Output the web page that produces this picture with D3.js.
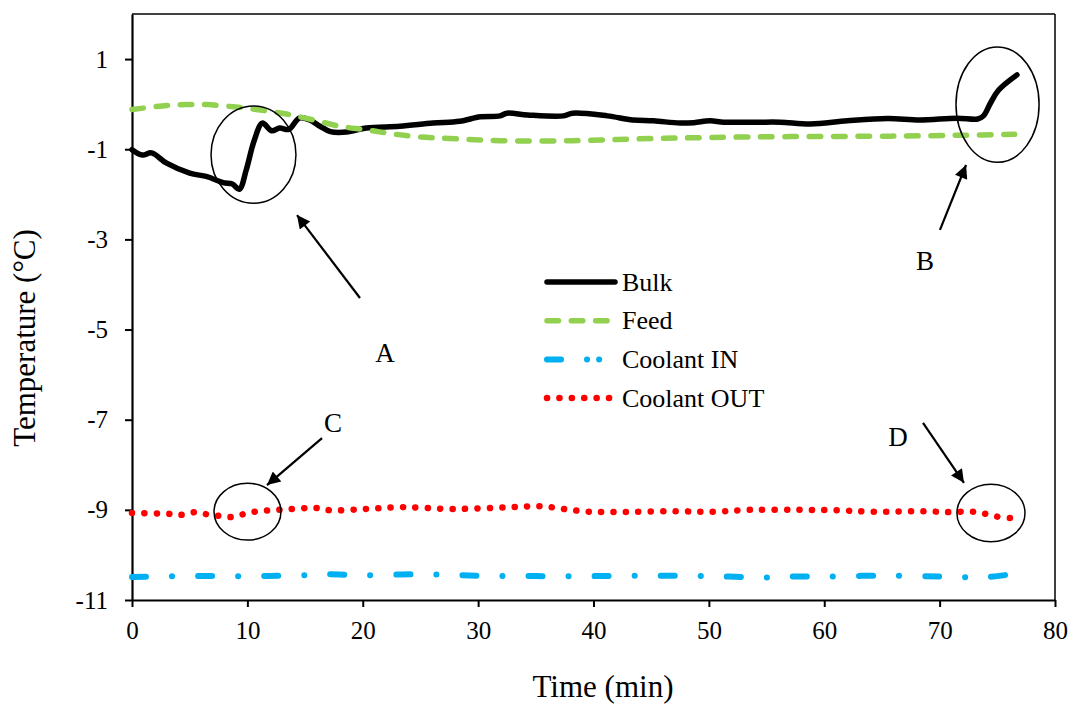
<!DOCTYPE html>
<html>
<head>
<meta charset="utf-8">
<script src="https://cdn.jsdelivr.net/npm/d3@7"></script>
<style>
  body { margin: 0; background: #fff; }
  svg text { font-family: "Liberation Serif", "Times New Roman", serif; fill: #000; }
</style>
</head>
<body>
<svg id="chart" width="1073" height="706"></svg>
<script>
// temperature log, values
const bulkTime = [0, 0.9, 1.7, 3, 5, 6.5, 7.9, 8.7, 9.3, 9.9, 10.6, 11.3, 12.1, 12.8, 13.6, 14.5, 15.4, 16.3, 17.2, 18.6, 20.3, 23.2, 26.1, 28.4, 30.2, 31.9, 32.5, 34.3, 37.4, 38.2, 41.2, 43.4, 45.2, 47.5, 48.7, 50.1, 51.3, 54.2, 56.2, 58.8, 62, 65.5, 68.3, 71.5, 73.3, 73.8, 74.4, 75.1, 76.7]
const bulkTemp = [-1.01, -1.13, -1.08, -1.31, -1.53, -1.61, -1.74, -1.77, -1.89, -1.46, -0.8, -0.42, -0.59, -0.53, -0.56, -0.31, -0.35, -0.49, -0.61, -0.62, -0.53, -0.49, -0.42, -0.38, -0.28, -0.26, -0.2, -0.24, -0.26, -0.2, -0.26, -0.35, -0.37, -0.42, -0.41, -0.37, -0.4, -0.4, -0.4, -0.44, -0.37, -0.32, -0.35, -0.31, -0.33, -0.26, 0.02, 0.31, 0.65]

const feedTime = [0, 3, 4.7, 6.5, 8.8, 11.1, 13.4, 15.7, 18, 20.3, 22.6, 25, 27.5, 31.9, 38.2, 44, 49.8, 57, 65.7, 71.8, 76.5]
const feedTemp = [-0.12, -0.03, -0.01, -0.01, -0.06, -0.13, -0.22, -0.35, -0.49, -0.57, -0.66, -0.73, -0.76, -0.81, -0.81, -0.77, -0.74, -0.72, -0.71, -0.69, -0.67]

const coolInTime = [0, 5, 10, 15, 17, 20, 25, 30, 35, 40, 45, 50, 55, 57, 60, 65, 70, 74, 76.5]
const coolInTemp = [-10.49, -10.47, -10.47, -10.45, -10.43, -10.45, -10.43, -10.46, -10.47, -10.47, -10.46, -10.47, -10.5, -10.48, -10.48, -10.46, -10.48, -10.49, -10.42]

const coolOutTime = [0, 3.3, 4.4, 5.5, 6.5, 7.5, 8.6, 9.6, 10.7, 12.8, 16, 17.2, 20.3, 23.5, 27.8, 33, 35.4, 37.4, 39.5, 41.7, 46.9, 50.4, 53.6, 57.7, 61.1, 64.3, 68.6, 70.8, 72.9, 74, 75, 76.1]
const coolOutTemp = [-9.07, -9.09, -9.11, -9.05, -9.1, -9.13, -9.16, -9.1, -9.04, -9, -8.96, -9.01, -8.98, -8.94, -8.98, -8.94, -8.92, -8.98, -9.04, -9.05, -9.03, -9.04, -9, -9, -9.01, -9.04, -9.03, -9.05, -9.04, -9.09, -9.15, -9.18]

const xTicks = [0, 10, 20, 30, 40, 50, 60, 70, 80]
const yTicks = [1, -1, -3, -5, -7, -9, -11]

// circled regions and arrows (time, temperature)
const circleNames = ['A', 'B', 'C', 'D']
const circleCentres = [[10.53, -1.12], [75.02, -0.01], [10.01, -9.04], [74.45, -9.07]]
const circleRadii = [[3.68, 1.08], [3.6, 1.28], [2.9, 0.63], [2.95, 0.64]]
const arrowTails = [[19.76, -4.3], [70.03, -2.79], [16.47, -7.41], [68.56, -7.07]]
const arrowHeads = [[14.3, -2.46], [72.29, -1.35], [11.7, -8.45], [72.11, -8.4]]
const letterSpots = [[21.93, -5.5], [68.73, -3.46], [17.42, -7.07], [66.39, -7.38]]

const series = [
  { name: 'Bulk', t: bulkTime, v: bulkTemp, color: '#000000', width: 5.5, dash: null },
  { name: 'Feed', t: feedTime, v: feedTemp, color: '#92D050', width: 5.5, dash: '11.5 12.8' },
  { name: 'Coolant IN', t: coolInTime, v: coolInTemp, color: '#00B0F0', width: 6, dash: '14 26 0.1 26' },
  { name: 'Coolant OUT', t: coolOutTime, v: coolOutTemp, color: '#FF0000', width: 6.5, dash: '0.1 12.3' }
]

const svg = d3.select('#chart')
const margin = { left: 132, top: 14, right: 18, bottom: 106 }
const width = 1073 - margin.left - margin.right
const height = 706 - margin.top - margin.bottom

const x = d3.scaleLinear().domain([0, 80]).range([0, width])
const y = d3.scaleLinear().domain([-11, 2]).range([height, 0])

const g = svg.append('g').attr('transform', `translate(${margin.left},${margin.top})`)

// frame
g.append('line').attr('x1', 0).attr('x2', width).attr('y1', 0).attr('y2', 0)
  .attr('stroke', '#000').attr('stroke-width', 1.5)
g.append('line').attr('x1', width).attr('x2', width).attr('y1', 0).attr('y2', height)
  .attr('stroke', '#000').attr('stroke-width', 1.5)

// axes, plain hyphen for negatives like the original
const xAxis = g.append('g').attr('transform', `translate(0,${height})`)
  .call(d3.axisBottom(x).tickValues(xTicks).tickFormat(d => String(d))
    .tickSize(7).tickPadding(14).tickSizeOuter(0))
const yAxis = g.append('g')
  .call(d3.axisLeft(y).tickValues(yTicks).tickFormat(d => String(d))
    .tickSize(7).tickPadding(17).tickSizeOuter(0))

;[xAxis, yAxis].forEach(a => {
  a.attr('font-family', 'Liberation Serif').attr('font-size', 25)
  a.select('.domain').attr('stroke', '#000').attr('stroke-width', 2.2)
  a.selectAll('.tick line').attr('stroke', '#000').attr('stroke-width', 2)
  a.selectAll('.tick text').attr('fill', '#000')
})

// lines
const line = d3.line().curve(d3.curveCatmullRom.alpha(0.5))
series.forEach(s => {
  const pts = s.t.map((t, i) => [x(t), y(s.v[i])])
  g.append('path')
    .attr('d', line(pts))
    .attr('fill', 'none')
    .attr('stroke', s.color)
    .attr('stroke-width', s.width)
    .attr('stroke-linecap', 'round')
    .attr('stroke-linejoin', 'round')
    .attr('stroke-dasharray', s.dash)
})

// annotations
svg.append('defs').append('marker')
  .attr('id', 'head')
  .attr('viewBox', '0 0 10 10')
  .attr('refX', 10).attr('refY', 5)
  .attr('markerWidth', 7).attr('markerHeight', 6)
  .attr('markerUnits', 'strokeWidth')
  .attr('orient', 'auto')
  .append('path').attr('d', 'M0,0 L10,5 L0,10 Z').attr('fill', '#000')

circleNames.forEach((n, i) => {
  const c = circleCentres[i]
  const r = circleRadii[i]
  g.append('ellipse')
    .attr('cx', x(c[0])).attr('cy', y(c[1]))
    .attr('rx', x(r[0]) - x(0)).attr('ry', y(0) - y(r[1]))
    .attr('fill', 'none').attr('stroke', '#000').attr('stroke-width', 1.5)
  g.append('line')
    .attr('x1', x(arrowTails[i][0])).attr('y1', y(arrowTails[i][1]))
    .attr('x2', x(arrowHeads[i][0])).attr('y2', y(arrowHeads[i][1]))
    .attr('stroke', '#000').attr('stroke-width', 2.2)
    .attr('marker-end', 'url(#head)')
  g.append('text')
    .attr('x', x(letterSpots[i][0])).attr('y', y(letterSpots[i][1]))
    .attr('text-anchor', 'middle').attr('dy', '0.35em')
    .attr('font-size', 27)
    .text(n)
})

// legend
const legend = svg.append('g').attr('transform', 'translate(545,282)')
series.forEach((s, i) => {
  const row = legend.append('g').attr('transform', `translate(0,${i * 38.7})`)
  row.append('line')
    .attr('x1', 2).attr('x2', 70).attr('y1', 0).attr('y2', 0)
    .attr('stroke', s.color).attr('stroke-width', s.width)
    .attr('stroke-linecap', 'round')
    .attr('stroke-dasharray', s.name === 'Coolant IN' ? '14 26 0.1 12 0.1 20' : s.dash)
  row.append('text')
    .attr('x', 77).attr('y', 0).attr('dy', '0.33em')
    .attr('font-size', 26)
    .text(s.name)
})

// axis titles
svg.append('text')
  .attr('x', 603).attr('y', 697)
  .attr('text-anchor', 'middle')
  .attr('font-size', 31)
  .text('Time (min)')

svg.append('text')
  .attr('transform', 'translate(35,338) rotate(-90)')
  .attr('text-anchor', 'middle')
  .attr('font-size', 31)
  .text('Temperature (°C)')
</script>
</body>
</html>
